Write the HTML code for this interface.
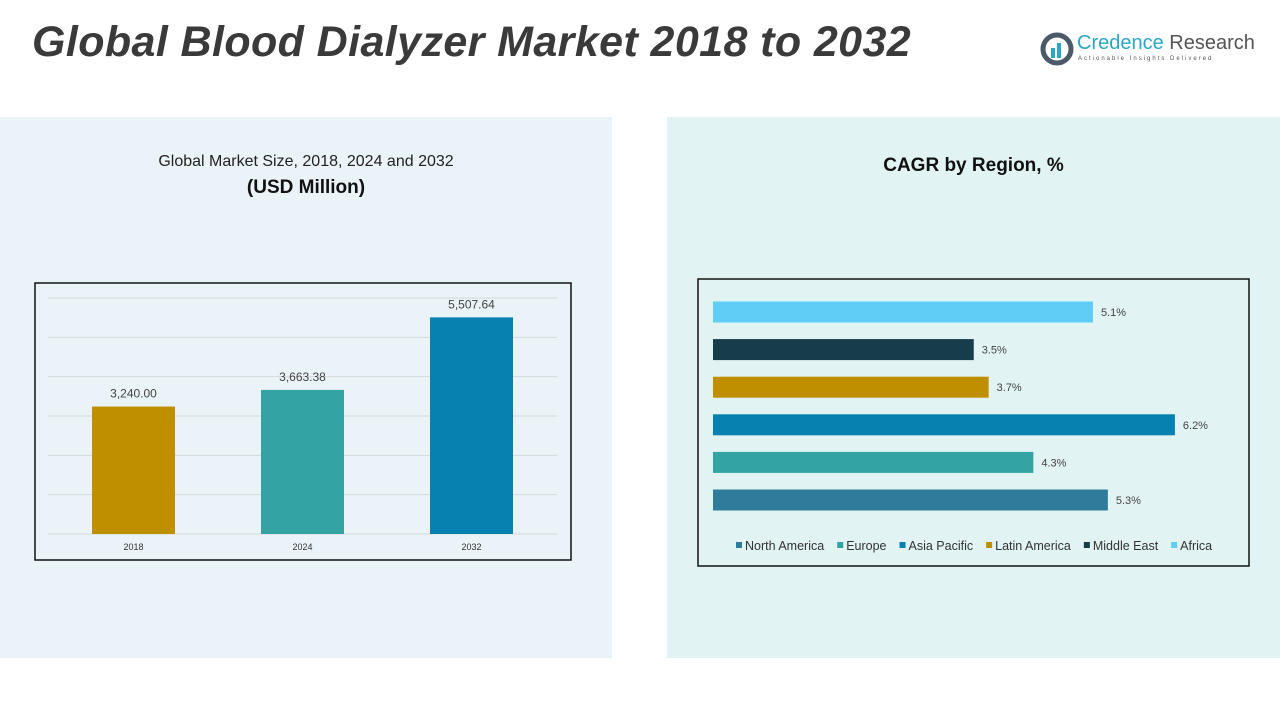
<!DOCTYPE html>
<html><head><meta charset="utf-8"><style>
body{margin:0;width:1280px;height:720px;background:#fff;position:relative;overflow:hidden;font-family:"Liberation Sans",sans-serif}
.abs{position:absolute}
</style></head><body>
<div class="abs" style="left:32px;top:18px;font-size:43px;letter-spacing:0.4px;font-weight:bold;font-style:italic;color:#3a3a3a">Global Blood Dialyzer Market 2018 to 2032</div>
<div class="abs" style="left:1040px;top:32px;width:210px;height:36px">
<svg width="34" height="34" style="position:absolute;left:0;top:0"><circle cx="17" cy="17" r="14" fill="none" stroke="#4a5a6a" stroke-width="5"/><rect x="11" y="16" width="4" height="10" fill="#2aa7c6"/><rect x="17" y="11" width="4" height="15" fill="#2aa7c6"/></svg>
<div class="abs" style="left:37px;top:0;font-size:20px;color:#2aa7c6;white-space:nowrap">Credence <span style="color:#555">Research</span></div>
<div class="abs" style="left:38px;top:24px;font-size:6px;letter-spacing:2px;color:#555;white-space:nowrap">Actionable Insights Delivered</div>
</div>
<div class="abs" style="left:0;top:117px;width:612px;height:541px;background:#eaf3f8"></div>
<div class="abs" style="left:667px;top:117px;width:613px;height:541px;background:#e2f3f3"></div>
<div class="abs" style="left:0;width:612px;top:153px;text-align:center;font-size:16px;color:#222">Global Market Size, 2018, 2024 and 2032</div>
<div class="abs" style="left:0;width:612px;top:177px;text-align:center;font-size:19px;font-weight:bold;color:#111">(USD Million)</div>
<div class="abs" style="left:667px;width:613px;top:155px;text-align:center;font-size:19px;font-weight:bold;color:#111">CAGR by Region, %</div>
<svg id="bar" class="abs" style="left:0;top:0" width="1280" height="720"></svg>
<script>
const years=["2018","2024","2032"];
const sizes=[3240.00,3663.38,5507.64];
const sizeLabels=["3,240.00","3,663.38","5,507.64"];
const gridTicks=[0,1000,2000,3000,4000,5000,6000];
const regions=["North America","Europe","Asia Pacific","Latin America","Middle East","Africa"];
const cagr=[5.3,4.3,6.2,3.7,3.5,5.1];
const regionColors=["#2e7b9b","#33a3a3","#0681b0","#bf8f00","#173c4c","#5fcdf5"];
const yearColors=["#bf8f00","#33a3a3","#0681b0"];
const NS="http://www.w3.org/2000/svg";
const svg=document.getElementById('bar');
function mk(t,a,p){const e=document.createElementNS(NS,t);for(const k in a)e.setAttribute(k,a[k]);(p||svg).appendChild(e);return e;}
let r=mk('rect',{x:35,y:283,width:536,height:277,fill:'none',stroke:'#111','stroke-width':1.5});


const y=v=>534-v*(236/6000);
gridTicks.forEach(t=>{const l=mk('line',{x1:48,x2:557,y1:y(t),y2:y(t),stroke:'#d4d9dc'});

});
const bx=i=>92+i*169;
sizes.forEach((v,i)=>{
const b=mk('rect',{x:bx(i),y:y(v),width:83,height:534-y(v),fill:yearColors[i]});


const t=mk('text',{x:bx(i)+41.5,y:y(v)-9,'text-anchor':'middle','font-size':12,fill:'#444'});t.textContent=sizeLabels[i];


const x=mk('text',{x:bx(i)+41.5,y:550,'text-anchor':'middle','font-size':9,fill:'#333'});x.textContent=years[i];


});
r=mk('rect',{x:698,y:279,width:551,height:287,fill:'none',stroke:'#111','stroke-width':1.5});


const xs=v=>713+v*74.5;
cagr.forEach((v,i)=>{
const cy=500-i*37.6;
const b=mk('rect',{x:713,y:cy-10.5,width:xs(v)-713,height:21,fill:regionColors[i]});


const t=mk('text',{x:xs(v)+8,y:cy+4,'font-size':11,fill:'#444'});t.textContent=v.toFixed(1)+'%';


});
let lx=736;
regions.forEach((n,i)=>{
const g=mk('g',{});


mk('rect',{x:lx,y:542,width:6,height:6,fill:regionColors[i]},g);
const t=mk('text',{x:lx+9,y:550,'font-size':12.5,fill:'#333'},g);t.textContent=n;
lx+=9+t.getComputedTextLength()+13;
});
</script>
</body></html>
